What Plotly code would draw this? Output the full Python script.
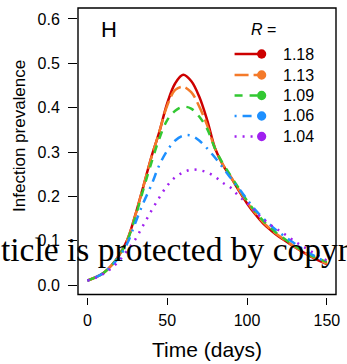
import plotly.graph_objects as go

# ---------------- data ----------------
days = list(range(0, 151, 5))
r_labels = ["1.18", "1.13", "1.09", "1.06", "1.04"]
prev_118 = [0.010, 0.017, 0.027, 0.044, 0.068, 0.102, 0.158, 0.222, 0.288, 0.345, 0.410,
            0.455, 0.474, 0.460, 0.425, 0.372, 0.308, 0.270, 0.242, 0.212, 0.184, 0.160,
            0.139, 0.123, 0.109, 0.097, 0.085, 0.074, 0.064, 0.055, 0.047]
prev_113 = [0.010, 0.017, 0.027, 0.044, 0.068, 0.102, 0.157, 0.222, 0.287, 0.345, 0.405,
            0.440, 0.447, 0.435, 0.403, 0.360, 0.307, 0.271, 0.243, 0.214, 0.187, 0.163,
            0.142, 0.125, 0.111, 0.098, 0.086, 0.075, 0.065, 0.056, 0.048]
prev_109 = [0.010, 0.017, 0.027, 0.044, 0.067, 0.100, 0.153, 0.215, 0.275, 0.330, 0.372,
            0.393, 0.402, 0.398, 0.380, 0.352, 0.307, 0.273, 0.245, 0.217, 0.190, 0.166,
            0.145, 0.128, 0.113, 0.100, 0.088, 0.077, 0.067, 0.059, 0.052]
prev_106 = [0.010, 0.017, 0.027, 0.043, 0.064, 0.094, 0.140, 0.185, 0.225, 0.270, 0.303,
            0.326, 0.337, 0.337, 0.326, 0.308, 0.287, 0.264, 0.240, 0.217, 0.193, 0.170,
            0.151, 0.134, 0.119, 0.106, 0.093, 0.081, 0.070, 0.060, 0.051]
prev_104 = [0.010, 0.016, 0.025, 0.038, 0.055, 0.078, 0.103, 0.135, 0.167, 0.197, 0.224,
            0.243, 0.254, 0.260, 0.259, 0.254, 0.244, 0.230, 0.219, 0.200, 0.185, 0.166,
            0.149, 0.135, 0.123, 0.111, 0.098, 0.087, 0.076, 0.065, 0.055]
series = [prev_118, prev_113, prev_109, prev_106, prev_104]
y_ticks = [0.0, 0.1, 0.2, 0.3, 0.4, 0.5, 0.6]
x_ticks = [0, 50, 100, 150]

# ---------------- styles ----------------
colors = ["#CD0000", "#F47A2A", "#32C832", "#1E90FF", "#A020F0"]
dashes = ["solid", "14px,5px", "8px,7px", "2px,6px,9px,6px", "2px,6px"]
FONT = "Liberation Sans, Arial, sans-serif"

W, H = 347, 364
ML, MR, MT, MB = 78, 7, 8, 67
PW, PH = W - ML - MR, H - MT - MB


def xp(px):
    return (px - ML) / PW


def yp(py):
    return (H - MB - py) / PH


fig = go.Figure()
for vals, col, dsh, lab in zip(series, colors, dashes, r_labels):
    fig.add_trace(go.Scatter(x=days, y=vals, mode="lines", name=lab,
                             line=dict(color=col, width=2.5, dash=dsh, shape="spline"),
                             showlegend=False, hoverinfo="skip"))

shapes = [dict(type="rect", xref="x domain", yref="y domain", x0=0, x1=1, y0=0, y1=1,
               line=dict(color="black", width=1.4), layer="above")]
annotations = []

# custom legend
rows = [54, 75, 95.5, 116, 136.5]
for ry, col, dsh, lab in zip(rows, colors, dashes, r_labels):
    shapes.append(dict(type="line", xref="paper", yref="paper",
                       x0=xp(237), x1=xp(262), y0=yp(ry), y1=yp(ry),
                       line=dict(color=col, width=2.5, dash=dsh)))
    rr = 4.7
    shapes.append(dict(type="circle", xref="paper", yref="paper",
                       x0=xp(264.5 - rr), x1=xp(264.5 + rr), y0=yp(ry + rr), y1=yp(ry - rr),
                       fillcolor=col, line=dict(width=0)))
    annotations.append(dict(text=lab, xref="paper", yref="paper", x=xp(284), y=yp(ry),
                            xanchor="left", yanchor="middle", showarrow=False,
                            font=dict(family=FONT, size=16, color="black")))
annotations.append(dict(text="<i>R</i> =", xref="paper", yref="paper", x=xp(266), y=yp(29.5),
                        xanchor="center", yanchor="middle", showarrow=False,
                        font=dict(family=FONT, size=16, color="black")))
annotations.append(dict(text="H", xref="paper", yref="paper", x=xp(109), y=yp(30),
                        xanchor="center", yanchor="middle", showarrow=False,
                        font=dict(family=FONT, size=22, color="black")))
# axis titles
annotations.append(dict(text="Time (days)", xref="paper", yref="paper", x=xp(208.5), y=yp(349),
                        xanchor="center", yanchor="middle", showarrow=False,
                        font=dict(family=FONT, size=21, color="black")))
annotations.append(dict(text="Infection prevalence", xref="paper", yref="paper", x=xp(18), y=yp(136),
                        xanchor="center", yanchor="middle", showarrow=False, textangle=-90,
                        font=dict(family=FONT, size=17, color="black")))
# watermark overlay
annotations.append(dict(text="ticle is protected by copyr", xref="paper", yref="paper",
                        x=xp(-2), y=yp(249), xanchor="left", yanchor="middle", showarrow=False,
                        font=dict(family="Liberation Serif, Times New Roman, serif", size=33.5,
                                  color="black")))

fig.update_layout(
    width=W, height=H,
    margin=dict(l=ML, r=MR, t=MT, b=MB, pad=0),
    paper_bgcolor="white", plot_bgcolor="white",
    shapes=shapes, annotations=annotations,
    xaxis=dict(range=[-5.9, 155.7], tickvals=x_ticks, ticks="outside", ticklen=7,
               tickwidth=1.2, tickcolor="black", showline=False, showgrid=False,
               zeroline=False, anchor="free", position=0,
               tickfont=dict(family=FONT, size=16, color="black"), ticklabelstandoff=2),
    yaxis=dict(range=[-0.0214, 0.6248], tickvals=y_ticks, tickformat=".1f", ticks="outside",
               ticklen=9, tickwidth=1.2, tickcolor="black", showline=False, showgrid=False,
               zeroline=False, domain=[0.0087, 1],
               tickfont=dict(family=FONT, size=16, color="black"), ticklabelstandoff=5),
)

fig.write_html("out.html")
